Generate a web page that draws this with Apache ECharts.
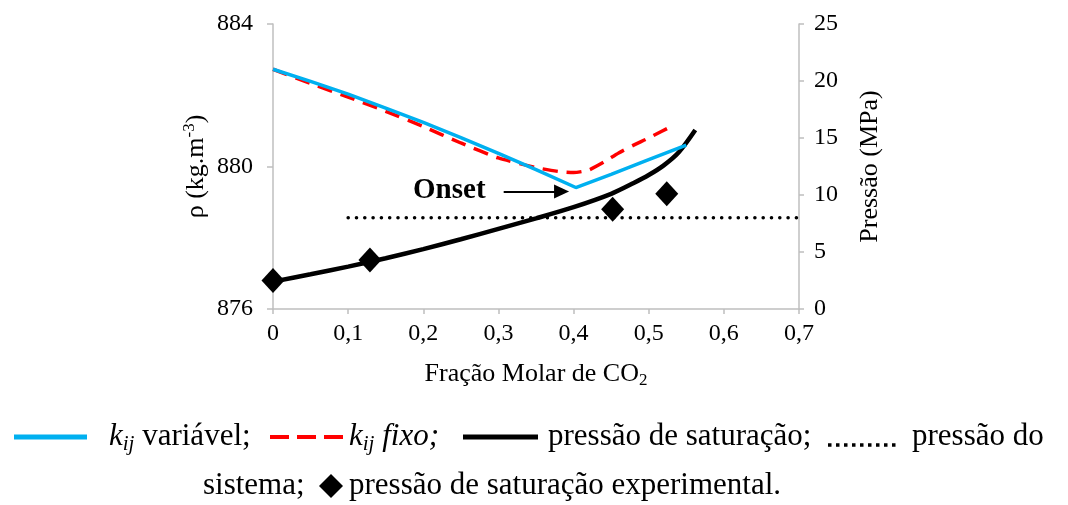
<!DOCTYPE html>
<html>
<head>
<meta charset="utf-8">
<script src="https://cdn.jsdelivr.net/npm/echarts@6/dist/echarts.min.js"></script>
<style>
  html, body { margin: 0; padding: 0; background: #ffffff; }
  #chart { width: 1068px; height: 505px; }
</style>
</head>
<body>
<div id="chart"></div>
<script>
// Densidade (kg/m3) com kij variável
const fracaoKijVariavel = [0, 0.05, 0.10, 0.15, 0.20, 0.25, 0.30, 0.35, 0.403, 0.45, 0.50, 0.55];
const rhoKijVariavel    = [882.73, 882.39, 882.03, 881.64, 881.24, 880.81, 880.37, 879.91, 879.41, 879.78, 880.19, 880.60];

// Densidade (kg/m3) com kij fixo
const fracaoKijFixo = [0, 0.05, 0.10, 0.15, 0.20, 0.25, 0.30, 0.35, 0.38, 0.40, 0.42, 0.44, 0.46, 0.48, 0.50, 0.535];
const rhoKijFixo    = [882.73, 882.33, 881.95, 881.55, 881.12, 880.66, 880.24, 879.97, 879.86, 879.83, 879.90, 880.12, 880.38, 880.60, 880.80, 881.18];

// Pressão de saturação calculada (MPa)
const fracaoSaturacao  = [0, 0.05, 0.10, 0.15, 0.20, 0.25, 0.30, 0.35, 0.40, 0.45, 0.48, 0.50, 0.52, 0.54, 0.562];
const pressaoSaturacao = [2.4, 3.05, 3.72, 4.45, 5.25, 6.12, 7.03, 7.95, 8.93, 10.1, 11.05, 11.75, 12.6, 13.75, 15.7];

// Pressão de saturação experimental (MPa)
const fracaoExperimental  = [0, 0.129, 0.452, 0.524];
const pressaoExperimental = [2.5, 4.3, 8.75, 10.1];

// Pressão do sistema (MPa)
const fracaoSistema  = [0.1, 0.7];
const pressaoSistema = [8, 8];

// Anotação do ponto de onset
const onsetTexto = 'Onset';
const onsetTextoPos = [0.2346, 879.33];
const onsetSeta = [[0.307, 879.30], [0.384, 879.30]];

const zip = (xs, ys) => xs.map((x, i) => [x, ys[i]]);

const FONT = "'Liberation Serif', 'Times New Roman', serif";
const AXIS_GRAY = '#bfbfbf';

const chart = echarts.init(document.getElementById('chart'), null, { renderer: 'canvas' });

const legendY1 = 437;
const legendY2 = 486;
const legFont = 31;
const subFont = 21;

function kijText(x, rest, restItalic) {
  return {
    type: 'text',
    x: x, y: legendY1,
    style: {
      text: '{k|k}{ij|ij}{r|' + rest + '}',
      textVerticalAlign: 'middle',
      rich: {
        k: { fontFamily: FONT, fontSize: legFont, fontStyle: 'italic', lineHeight: 36, verticalAlign: 'middle', fill: '#000' },
        ij: { fontFamily: FONT, fontSize: subFont, fontStyle: 'italic', lineHeight: 22, verticalAlign: 'bottom', fill: '#000' },
        r: { fontFamily: FONT, fontSize: legFont, fontStyle: restItalic ? 'italic' : 'normal', lineHeight: 36, verticalAlign: 'middle', fill: '#000' }
      }
    }
  };
}

function plainText(x, y, txt) {
  return {
    type: 'text', x: x, y: y,
    style: { text: txt, font: legFont + 'px ' + FONT, fill: '#000', textVerticalAlign: 'middle' }
  };
}

const legendGraphics = [
  { type: 'line', shape: { x1: 14, y1: legendY1, x2: 87, y2: legendY1 }, style: { stroke: '#00b0f0', lineWidth: 5 } },
  kijText(109, ' variável;', false),
  { type: 'line', shape: { x1: 270, y1: legendY1, x2: 343, y2: legendY1 }, style: { stroke: '#ff0000', lineWidth: 4, lineDash: [19, 8] } },
  kijText(349, ' fixo;', true),
  { type: 'line', shape: { x1: 463, y1: legendY1, x2: 538, y2: legendY1 }, style: { stroke: '#000000', lineWidth: 5 } },
  plainText(548, legendY1, 'pressão de saturação;'),
  { type: 'line', shape: { x1: 828, y1: legendY1 + 8, x2: 898, y2: legendY1 + 8 }, style: { stroke: '#000000', lineWidth: 3.5, lineDash: [3.5, 4.5] } },
  plainText(912, legendY1, 'pressão do'),
  plainText(203, legendY2, 'sistema;'),
  { type: 'polygon', shape: { points: [[331, legendY2 - 12], [343, legendY2], [331, legendY2 + 12], [319, legendY2]] }, style: { fill: '#000' } },
  plainText(349, legendY2, 'pressão de saturação experimental.')
];

const option = {
  animation: false,
  backgroundColor: '#ffffff',
  textStyle: { fontFamily: FONT },
  grid: { left: 273, right: 269, top: 24, bottom: 196, containLabel: false },
  xAxis: {
    type: 'value',
    min: 0, max: 0.7, interval: 0.1,
    name: '{a|Fração Molar de CO}{s|2}',
    nameLocation: 'middle',
    nameGap: 50,
    nameTextStyle: {
      rich: {
        a: { fontFamily: FONT, fontSize: 26, color: '#000', lineHeight: 30, verticalAlign: 'middle' },
        s: { fontFamily: FONT, fontSize: 17, color: '#000', lineHeight: 16, verticalAlign: 'bottom' }
      }
    },
    axisLine: { show: true, lineStyle: { color: AXIS_GRAY, width: 1.5 } },
    axisTick: { show: true, length: 5, lineStyle: { color: AXIS_GRAY, width: 1.5 } },
    splitLine: { show: false },
    axisLabel: {
      fontFamily: FONT, fontSize: 24, color: '#000', margin: 13,
      formatter: v => String(+v.toFixed(1)).replace('.', ',')
    }
  },
  yAxis: [
    {
      type: 'value', min: 876, max: 884, interval: 4,
      position: 'left',
      name: '{a|ρ (kg.m}{s|-3}{a|)}',
      nameLocation: 'middle', nameRotate: 90, nameGap: 62,
      nameTextStyle: {
        rich: {
          a: { fontFamily: FONT, fontSize: 26, color: '#000', lineHeight: 30, verticalAlign: 'middle' },
          s: { fontFamily: FONT, fontSize: 17, color: '#000', lineHeight: 16, verticalAlign: 'top' }
        }
      },
      axisLine: { show: true, lineStyle: { color: AXIS_GRAY, width: 1.5 } },
      axisTick: { show: true, length: 6, lineStyle: { color: AXIS_GRAY, width: 1.5 } },
      splitLine: { show: false },
      axisLabel: { fontFamily: FONT, fontSize: 24, color: '#000', margin: 20 }
    },
    {
      type: 'value', min: 0, max: 25, interval: 5,
      position: 'right',
      name: 'Pressão (MPa)',
      nameLocation: 'middle', nameRotate: 90, nameGap: 58,
      nameTextStyle: { fontFamily: FONT, fontSize: 26, color: '#000' },
      axisLine: { show: true, lineStyle: { color: AXIS_GRAY, width: 1.5 } },
      axisTick: { show: true, length: 5, lineStyle: { color: AXIS_GRAY, width: 1.5 } },
      splitLine: { show: false },
      axisLabel: { fontFamily: FONT, fontSize: 24, color: '#000', margin: 15 }
    }
  ],
  series: [
    {
      name: 'pressão do sistema',
      type: 'line', yAxisIndex: 1,
      data: zip(fracaoSistema, pressaoSistema),
      showSymbol: false, symbol: 'none',
      lineStyle: { color: '#000', width: 3.5, type: [0.1, 8.2], cap: 'round' },
      z: 2
    },
    {
      name: 'pressão de saturação',
      type: 'line', yAxisIndex: 1,
      data: zip(fracaoSaturacao, pressaoSaturacao),
      smooth: 0.3, showSymbol: false, symbol: 'none',
      lineStyle: { color: '#000', width: 4.5 },
      z: 3
    },
    {
      name: 'kij fixo',
      type: 'line', yAxisIndex: 0,
      data: zip(fracaoKijFixo, rhoKijFixo),
      smooth: 0.2, showSymbol: false, symbol: 'none',
      lineStyle: { color: '#ff0000', width: 3.5, type: [15, 9] },
      z: 4
    },
    {
      name: 'kij variável',
      type: 'line', yAxisIndex: 0,
      data: zip(fracaoKijVariavel, rhoKijVariavel),
      smooth: false, showSymbol: false, symbol: 'none',
      lineStyle: { color: '#00b0f0', width: 3.5 },
      z: 5,
      markLine: {
        silent: true, animation: false,
        symbol: ['none', 'triangle'], symbolSize: [14, 15],
        lineStyle: { color: '#000', width: 2, type: 'solid' },
        label: { show: false },
        emphasis: { disabled: true },
        data: [[{ coord: onsetSeta[0] }, { coord: onsetSeta[1] }]]
      },
      markPoint: {
        silent: true, animation: false,
        symbol: 'rect', symbolSize: 1,
        itemStyle: { color: 'rgba(0,0,0,0)' },
        label: {
          show: true, position: 'inside', formatter: onsetTexto,
          fontFamily: FONT, fontSize: 29, fontWeight: 'bold', color: '#000'
        },
        data: [{ coord: onsetTextoPos }]
      }
    },
    {
      name: 'pressão de saturação experimental',
      type: 'scatter', yAxisIndex: 1,
      data: zip(fracaoExperimental, pressaoExperimental),
      symbol: 'diamond', symbolSize: [23, 25],
      itemStyle: { color: '#000', opacity: 1 },
      z: 6
    }
  ],
  graphic: legendGraphics
};

chart.setOption(option);
</script>
</body>
</html>
